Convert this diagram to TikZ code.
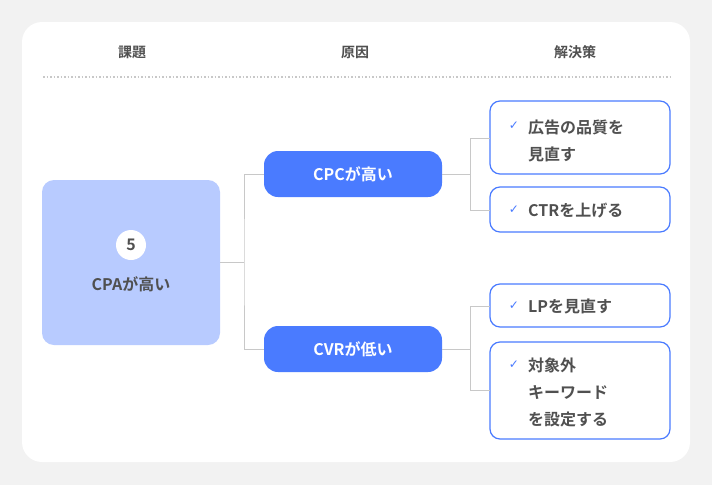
\documentclass[tikz,border=0pt]{standalone}
\usepackage{fontspec}
\setmainfont{Noto Sans CJK JP}[BoldFont={* Bold}]
\newfontfamily\symfont{DejaVu Sans}
\usetikzlibrary{positioning}
\definecolor{BgGray}{HTML}{F2F2F2}
\definecolor{LineGray}{HTML}{C8C8C8}
\definecolor{TextGray}{HTML}{505050}
\definecolor{CauseBlue}{HTML}{4A7BFF}
\definecolor{IssueBlue}{HTML}{B8CBFF}
\tikzset{
  head/.style={font=\bfseries\fontsize{14}{16}\selectfont,text=TextGray},
  cause/.style={fill=CauseBlue,rounded corners=14pt,minimum width=178pt,minimum height=46pt,text=white,font=\bfseries\fontsize{16}{18}\selectfont},
  fix/.style={draw=CauseBlue,line width=1.2pt,fill=white,rounded corners=10pt},
  fixtext/.style={anchor=base west,text=TextGray,font=\bfseries\fontsize{16}{18}\selectfont,inner sep=0pt},
  tick/.style={text=CauseBlue,font=\symfont\bfseries\fontsize{12}{12}\selectfont,inner sep=0pt},
  link/.style={draw=LineGray,line width=1pt},
}
\begin{document}
\begin{tikzpicture}[x=1pt,y=-1pt]
\useasboundingbox (0,0) rectangle (712,485);
\fill[BgGray] (0,0) rectangle (712,485);
\fill[white,rounded corners=20pt] (22,22) rectangle (690,462);

% headers
\node[head] (hIssue) at (132,52) {課題};
\node[head] (hCause) at (355,52) {原因};
\node[head] (hFix) at (575,52) {解決策};
\draw[LineGray,line width=1.5pt,dotted] (43,77) -- (670,77);

% issue
\node[fill=IssueBlue,rounded corners=12pt,minimum width=178pt,minimum height=165pt] (issue) at (131,262.5) {};
\node[circle,fill=white,minimum size=30pt,inner sep=0pt,text=TextGray,font=\bfseries\fontsize{16}{18}\selectfont] (num) at (131,245) {5};
\node[text=TextGray,font=\bfseries\fontsize{16}{18}\selectfont] (issueText) at (131,284) {CPAが高い};

% causes
\node[cause] (cpc) at (353,174) {CPCが高い};
\node[cause] (cvr) at (353,349) {CVRが低い};

% fixes
\draw[fix] (490,101) rectangle (670,174);
\node[tick] (t1) at (514,126) {✓};
\node[fixtext] (f1a) at (528,133) {広告の品質を};
\node[fixtext] (f1b) at (528,160) {見直す};
\draw[fix] (490,187) rectangle (670,232);
\node[tick] (t2) at (514,210) {✓};
\node[fixtext] (f2) at (528,216) {CTRを上げる};
\draw[fix] (490,284) rectangle (670,327);
\node[tick] (t3) at (514,306) {✓};
\node[fixtext] (f3) at (528,312) {LPを見直す};
\draw[fix] (490,342) rectangle (670,439);
\node[tick] (t4) at (514,365) {✓};
\node[fixtext] (f4a) at (528,371) {対象外};
\node[fixtext] (f4b) at (528,398) {キーワード};
\node[fixtext] (f4c) at (528,425) {を設定する};

% connectors
\coordinate (j1) at (244,262.5);
\draw[link] (issue.east) -- (j1);
\draw[link] (cpc.west) -| (j1) |- (cvr.west);
\draw[link] (cpc.east) -- (470,174);
\draw[link] (490,138) -| (470,210) -- (490,210);
\draw[link] (cvr.east) -- (470,349);
\draw[link] (490,306) -| (470,390) -- (490,390);
\end{tikzpicture}
\end{document}
